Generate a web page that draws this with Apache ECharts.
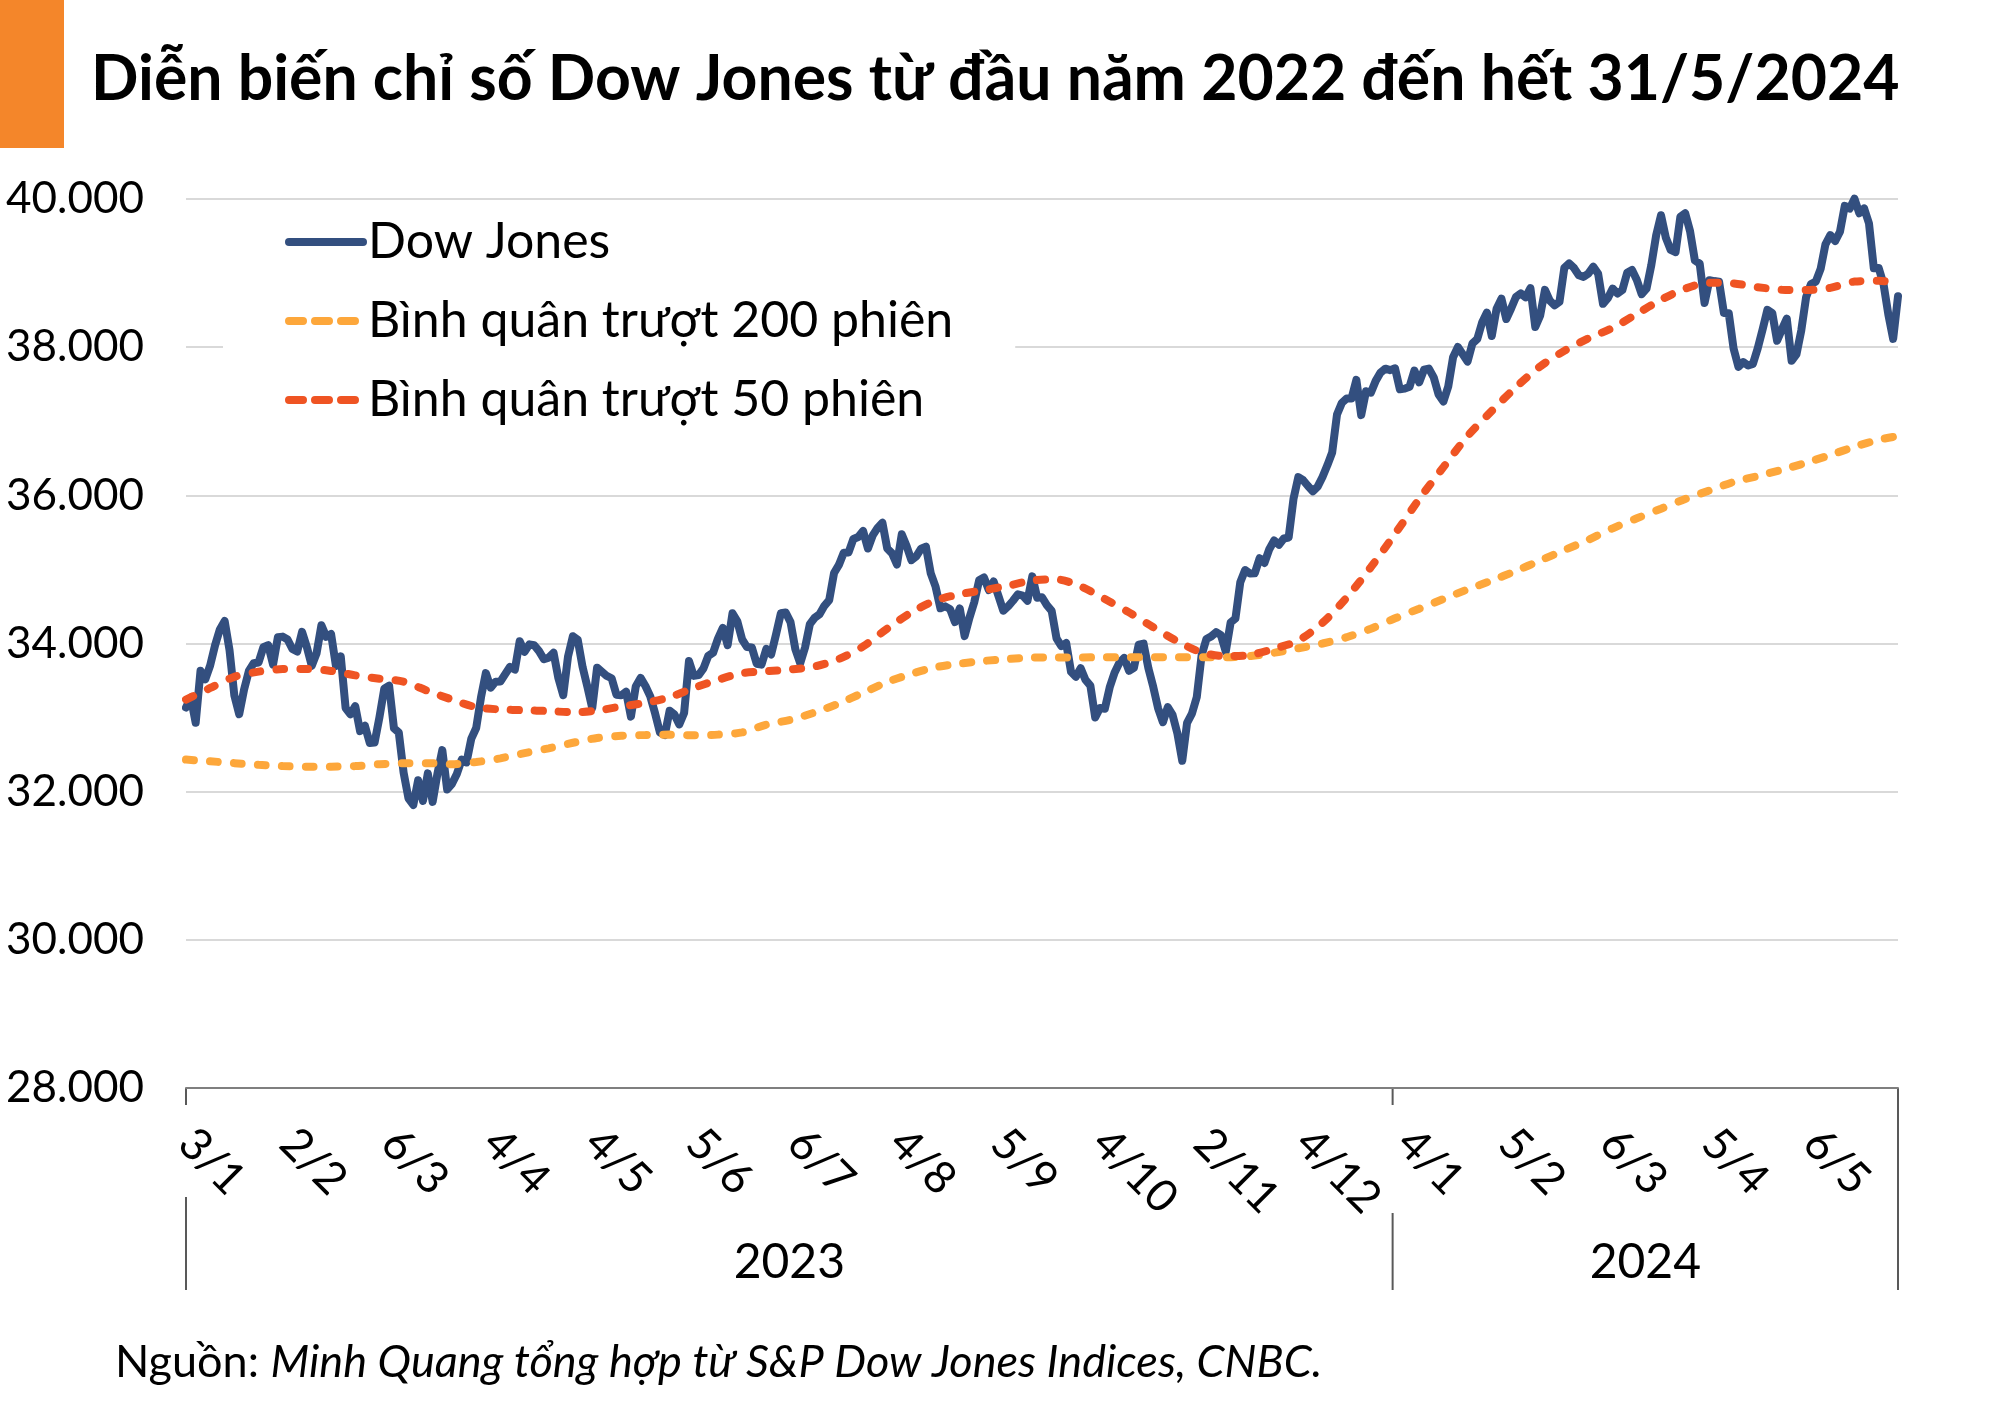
<!DOCTYPE html>
<html><head><meta charset="utf-8">
<script src="https://cdn.jsdelivr.net/npm/echarts@6/dist/echarts.min.js"></script>
<style>html,body{margin:0;padding:0;background:#fff}#c{width:2000px;height:1405px}</style>
</head><body><div id="c"></div>
<script>
// Trading days per month (day numbers), Jan 2023 – May 2024
const tradingDays = [
 [2023,1,[3,4,5,6,9,10,11,12,13,17,18,19,20,23,24,25,26,27,30,31]],
 [2023,2,[1,2,3,6,7,8,9,10,13,14,15,16,17,21,22,23,24,27,28]],
 [2023,3,[1,2,3,6,7,8,9,10,13,14,15,16,17,20,21,22,23,24,27,28,29,30,31]],
 [2023,4,[3,4,5,6,10,11,12,13,14,17,18,19,20,21,24,25,26,27,28]],
 [2023,5,[1,2,3,4,5,8,9,10,11,12,15,16,17,18,19,22,23,24,25,26,30,31]],
 [2023,6,[1,2,5,6,7,8,9,12,13,14,15,16,20,21,22,23,26,27,28,29,30]],
 [2023,7,[3,5,6,7,10,11,12,13,14,17,18,19,20,21,24,25,26,27,28,31]],
 [2023,8,[1,2,3,4,7,8,9,10,11,14,15,16,17,18,21,22,23,24,25,28,29,30,31]],
 [2023,9,[1,5,6,7,8,11,12,13,14,15,18,19,20,21,22,25,26,27,28,29]],
 [2023,10,[2,3,4,5,6,9,10,11,12,13,16,17,18,19,20,23,24,25,26,27,30,31]],
 [2023,11,[1,2,3,6,7,8,9,10,13,14,15,16,17,20,21,22,24,27,28,29,30]],
 [2023,12,[1,4,5,6,7,8,11,12,13,14,15,18,19,20,21,22,26,27,28,29]],
 [2024,1,[2,3,4,5,8,9,10,11,12,16,17,18,19,22,23,24,25,26,29,30,31]],
 [2024,2,[1,2,5,6,7,8,9,12,13,14,15,16,20,21,22,23,26,27,28,29]],
 [2024,3,[1,4,5,6,7,8,11,12,13,14,15,18,19,20,21,22,25,26,27,28]],
 [2024,4,[1,2,3,4,5,8,9,10,11,12,15,16,17,18,19,22,23,24,25,26,29,30]],
 [2024,5,[1,2,3,6,7,8,9,10,13,14,15,16,17,20,21,22,23,24,28,29,30,31]]
];

// Dow Jones closes
const dow2023 = [
 33136,33270,32930,33631,33518,33704,33973,34190,34303,33910,33297,33045,33375,33630,33734,33744,33949,33978,33717,34086,
 34093,34054,33926,33891,34156,33949,33699,33869,34246,34089,34128,33697,33826,33130,33045,33154,32817,32889,32657,
 32662,33004,33391,33431,32856,32798,32255,31910,31820,32155,31875,32247,31862,32245,32560,32030,32106,32238,32432,32395,32717,32859,33274,
 33601,33403,33483,33486,33587,33685,33647,34030,33887,33988,33977,33897,33787,33809,33876,33531,33302,33827,34098,
 34051,33684,33414,33128,33674,33619,33562,33531,33309,33300,33349,33013,33421,33536,33427,33287,33056,32800,32765,33093,33043,32908,
 33062,33763,33563,33573,33665,33834,33877,34067,34212,33979,34408,34299,34054,33952,33947,33727,33714,33927,33853,34122,34408,
 34418,34288,33922,33734,33944,34261,34347,34395,34509,34585,34952,35061,35225,35228,35411,35438,35520,35282,35459,35560,
 35630,35283,35216,35066,35474,35315,35124,35176,35281,35308,34946,34766,34475,34501,34464,34289,34473,34100,34347,34559,34853,34891,34722,
 34838,34642,34443,34501,34577,34664,34646,34576,34907,34618,34624,34518,34441,34070,33964,34007,33619,33551,33667,33508,
 33433,33002,33130,33120,33408,33605,33740,33805,33631,33671,33985,33998,33665,33415,33127,32937,33141,33036,32785,32418,32929,33053,
 33275,33840,34061,34096,34153,34112,33892,34283,34338,34828,34991,34945,34947,35151,35088,35273,35390,35333,35417,35430,35951,
 36246,36204,36125,36054,36118,36248,36405,36578,37090,37248,37306,37306,37558,37083,37405,37386,37545,37657,37710,37690
];
const dow2024 = [
 37715,37431,37440,37466,37683,37525,37696,37711,37593,37361,37267,37469,37864,38002,37906,37806,38050,38109,38333,38467,38150,
 38520,38654,38380,38521,38677,38726,38672,38797,38273,38424,38773,38628,38564,38612,39069,39131,39069,38972,38949,38996,
 39087,38990,38585,38661,38791,38723,38770,39005,39043,38906,38715,38790,39111,39512,39781,39476,39313,39282,39760,39807,
 39567,39170,39127,38597,38904,38892,38884,38462,38459,37983,37735,37799,37753,37775,37986,38240,38504,38461,38086,38240,38386,37816,
 37903,38226,38676,38852,38884,39056,39388,39513,39432,39558,39908,39870,40004,39807,39873,39671,39065,39070,38853,38442,38112,38686
];

// Moving averages at every 5th session (session index)
const maIndex = [0,5,10,15,20,25,30,35,40,45,50,55,60,65,70,75,80,85,90,95,100,105,110,115,120,125,130,135,140,145,150,155,160,165,170,175,180,185,190,195,200,205,210,215,220,225,230,235,240,245,250,255,260,265,270,275,280,285,290,295,300,305,310,315,320,325,330,335,340,345,350,354];
const ma50 = [33243,33400,33550,33620,33655,33657,33630,33570,33525,33485,33360,33243,33140,33110,33099,33088,33072,33095,33150,33200,33275,33400,33510,33600,33625,33650,33690,33790,33960,34200,34420,34580,34665,34720,34780,34850,34865,34770,34600,34420,34220,34030,33880,33830,33845,33930,34040,34280,34620,35030,35480,35950,36380,36800,37140,37460,37740,37950,38120,38260,38450,38640,38790,38870,38860,38810,38775,38770,38800,38885,38895,38870];
const ma200 = [32433,32410,32385,32362,32345,32337,32338,32345,32370,32385,32385,32370,32400,32450,32520,32585,32660,32725,32755,32765,32770,32760,32770,32800,32905,32970,33070,33190,33335,33480,33590,33680,33728,33765,33790,33812,33810,33812,33814,33814,33814,33814,33814,33814,33830,33875,33935,34000,34085,34200,34340,34470,34600,34730,34850,34980,35120,35260,35400,35555,35690,35820,35950,36065,36180,36260,36345,36440,36545,36655,36750,36800];

const seriesNames = ['Dow Jones','Bình quân trượt 200 phiên','Bình quân trượt 50 phiên'];
const yTicks = {min:28000, max:40000, step:2000};
const years = ['2023','2024'];

const categories = [];
tradingDays.forEach(([y,m,ds]) => ds.forEach(d => categories.push(d + '/' + m)));
const dow = dow2023.concat(dow2024);
const pairs = (vals) => maIndex.map((i,k) => [i, vals[k]]);

const FONT = 'Lato, "Open Sans", sans-serif';
const chart = echarts.init(document.getElementById('c'));
const fmt = v => String(v).replace(/\B(?=(\d{3})+(?!\d))/g, '.');
const legendDash = {type: [14, 12]};

chart.setOption({
  animation: false,
  backgroundColor: '#fff',
  textStyle: {fontFamily: FONT},
  grid: {left: 186, right: 102, top: 199, bottom: 317, containLabel: false},
  legend: {
    orient: 'vertical', left: 223, top: 200,
    padding: [13, 62, 20, 62],
    backgroundColor: '#fff',
    itemWidth: 74, itemHeight: 14, itemGap: 21,
    itemStyle: {opacity: 0},
    lineStyle: {width: 8, cap: 'round'},
    textStyle: {fontSize: 50, fontFamily: FONT, color: '#000', lineHeight: 58},
    data: [
      {name: seriesNames[0]},
      {name: seriesNames[1], lineStyle: legendDash},
      {name: seriesNames[2], lineStyle: legendDash}
    ]
  },
  xAxis: {
    type: 'category', data: categories, boundaryGap: false,
    axisLine: {lineStyle: {color: '#7f7f7f', width: 2}},
    axisTick: {show: false},
    axisLabel: {interval: 20, rotate: -45, fontSize: 45, color: '#000', fontFamily: FONT, margin: 48}
  },
  yAxis: {
    type: 'value', min: yTicks.min, max: yTicks.max, interval: yTicks.step,
    axisLine: {show: false}, axisTick: {show: false},
    axisLabel: {fontSize: 44, color: '#000', fontFamily: FONT, margin: 42, formatter: fmt},
    splitLine: {lineStyle: {color: '#d9d9d9', width: 2}}
  },
  series: [
    {name: seriesNames[0], type: 'line', data: dow, symbol: 'none', clip: false,
     lineStyle: {color: '#334F7F', width: 8, join: 'round', cap: 'round'}, itemStyle: {color: '#334F7F'}},
    {name: seriesNames[1], type: 'line', data: pairs(ma200), symbol: 'none', smooth: 0.3,
     lineStyle: {color: '#FDA73B', width: 8, type: [8, 16], cap: 'round'}, itemStyle: {color: '#FDA73B'}},
    {name: seriesNames[2], type: 'line', data: pairs(ma50), symbol: 'none', smooth: 0.3,
     lineStyle: {color: '#EF5423', width: 8, type: [8, 16], cap: 'round'}, itemStyle: {color: '#EF5423'}}
  ]
});

const px = i => chart.convertToPixel({xAxisIndex: 0}, i);
const axisY = chart.convertToPixel({yAxisIndex: 0}, yTicks.min);
const x0 = px(0), xm = (px(249) + px(250)) / 2, xe = px(categories.length - 1);
const bottomY = axisY + 202;
const vline = (x, y1, y2) => ({type: 'line', shape: {x1: x, y1: y1, x2: x, y2: y2}, style: {stroke: '#595959', lineWidth: 2}});
chart.setOption({
  graphic: [
    {type: 'rect', shape: {x: 0, y: 0, width: 64, height: 148}, style: {fill: '#F4862A'}},
    {type: 'text', x: 91, y: 80, style: {text: 'Diễn biến chỉ số Dow Jones từ đầu năm 2022 đến hết 31/5/2024', font: 'bold 62.5px ' + FONT, fill: '#000', textVerticalAlign: 'middle'}},
    vline(x0, axisY, axisY + 17), vline(x0, axisY + 109, bottomY),
    vline(xm, axisY, axisY + 17), vline(xm, axisY + 125, bottomY),
    vline(xe, axisY, bottomY),
    {type: 'text', x: (x0 + xm) / 2, y: axisY + 175, style: {text: years[0], font: '48px ' + FONT, fill: '#000', textAlign: 'center', textVerticalAlign: 'middle'}},
    {type: 'text', x: (xm + xe) / 2, y: axisY + 175, style: {text: years[1], font: '48px ' + FONT, fill: '#000', textAlign: 'center', textVerticalAlign: 'middle'}},
    {type: 'text', x: 115, y: 1362, style: {
      text: '{a|Nguồn: }{b|Minh Quang tổng hợp từ S&P Dow Jones Indices, CNBC.}',
      textVerticalAlign: 'middle', fill: '#000',
      rich: {a: {fontSize: 45, fontFamily: FONT, fill: '#000'}, b: {fontSize: 45, fontFamily: FONT, fontStyle: 'italic', fill: '#000'}}
    }}
  ]
});
</script>
</body></html>
